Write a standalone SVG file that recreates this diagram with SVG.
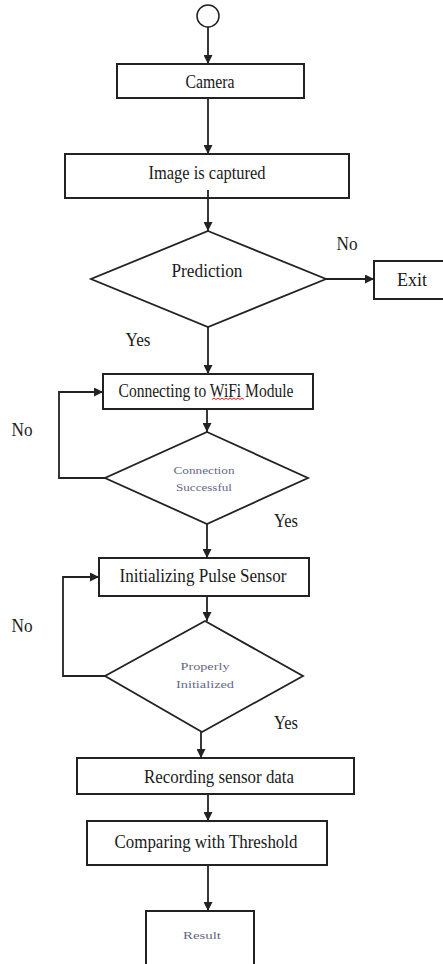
<svg xmlns="http://www.w3.org/2000/svg" width="443" height="964" viewBox="0 0 443 964">
<style>
.box{fill:#fff;stroke:#222;stroke-width:2}
.dia{fill:#fff;stroke:#222;stroke-width:1.8}
.edge{fill:none;stroke:#222;stroke-width:1.8}
.t{font-family:"Liberation Serif","Times New Roman",serif;font-size:18px;fill:#1a1a1a;text-anchor:middle}
.s{font-family:"Liberation Serif","Times New Roman",serif;font-size:11px;fill:#66698a;text-anchor:middle}
</style>
<defs>
<marker id="ah" viewBox="0 0 10 10" refX="10" refY="5" markerWidth="9" markerHeight="9" markerUnits="userSpaceOnUse" orient="auto">
<path d="M0,0 L10,5 L0,10 z" fill="#222"/>
</marker>
</defs>
<rect width="443" height="964" fill="#fff"/>
<g id="connectors">
<line class="edge" x1="208" y1="27" x2="208" y2="64" marker-end="url(#ah)"/>
<line class="edge" x1="208" y1="98" x2="208" y2="154" marker-end="url(#ah)"/>
<line class="edge" x1="208" y1="190" x2="208" y2="231" marker-end="url(#ah)"/>
<line class="edge" x1="326" y1="279" x2="374" y2="279" marker-end="url(#ah)"/>
<line class="edge" x1="208" y1="327" x2="208" y2="374" marker-end="url(#ah)"/>
<line class="edge" x1="207" y1="409" x2="207" y2="432" marker-end="url(#ah)"/>
<polyline class="edge" points="105,478 59,478 59,392 103,392" marker-end="url(#ah)"/>
<line class="edge" x1="207" y1="524" x2="207" y2="558" marker-end="url(#ah)"/>
<line class="edge" x1="207" y1="596" x2="207" y2="621" marker-end="url(#ah)"/>
<polyline class="edge" points="105,676 63,676 63,577 99,577" marker-end="url(#ah)"/>
<line class="edge" x1="201" y1="732" x2="201" y2="758" marker-end="url(#ah)"/>
<line class="edge" x1="208" y1="794" x2="208" y2="821" marker-end="url(#ah)"/>
<line class="edge" x1="208" y1="865" x2="208" y2="911" marker-end="url(#ah)"/>
<text class="t" x="347" y="250" textLength="21" lengthAdjust="spacingAndGlyphs">No</text>
<text class="t" x="138" y="346" textLength="25" lengthAdjust="spacingAndGlyphs">Yes</text>
<text class="t" x="22" y="436" textLength="21" lengthAdjust="spacingAndGlyphs">No</text>
<text class="t" x="286" y="527" textLength="24" lengthAdjust="spacingAndGlyphs">Yes</text>
<text class="t" x="22" y="632" textLength="21" lengthAdjust="spacingAndGlyphs">No</text>
<text class="t" x="286" y="729" textLength="24" lengthAdjust="spacingAndGlyphs">Yes</text>
</g>
<g id="start"><circle cx="208" cy="16" r="11" fill="#fff" stroke="#222" stroke-width="1.5"/></g>
<g id="camera"><rect class="box" x="117" y="64" width="187" height="34"/><text class="t" x="210" y="88" textLength="49" lengthAdjust="spacingAndGlyphs">Camera</text></g>
<g id="capture"><rect class="box" x="65" y="154" width="284" height="44"/><text class="t" x="207" y="179" textLength="117" lengthAdjust="spacingAndGlyphs">Image is captured</text></g>
<line class="edge" x1="208" y1="190" x2="208" y2="198"/>
<g id="prediction"><polygon class="dia" points="208,231 326,279 208,327 91,279"/><text class="t" x="207" y="277" textLength="71" lengthAdjust="spacingAndGlyphs">Prediction</text></g>
<g id="exit"><rect class="box" x="374" y="261" width="80" height="38"/><text class="t" x="412" y="286" textLength="30" lengthAdjust="spacingAndGlyphs">Exit</text></g>
<g id="wifi"><rect class="box" x="103" y="374" width="210" height="35"/><text class="t" x="206" y="397" textLength="175" lengthAdjust="spacingAndGlyphs">Connecting to WiFi Module</text>
<path d="M212,399.5 l2,-1.5 l2,1.5 l2,-1.5 l2,1.5 l2,-1.5 l2,1.5 l2,-1.5 l2,1.5 l2,-1.5 l2,1.5 l2,-1.5 l2,1.5 l2,-1.5 l2,1.5 l2,-1.5 l2,1.5" fill="none" stroke="#e02020" stroke-width="1"/></g>
<g id="conn-check"><polygon class="dia" points="207,432 308,478 207,524 105,478"/><text class="s" x="204" y="474" textLength="61" lengthAdjust="spacingAndGlyphs">Connection</text><text class="s" x="204" y="491" textLength="56" lengthAdjust="spacingAndGlyphs">Successful</text></g>
<g id="pulse"><rect class="box" x="99" y="558" width="210" height="38"/><text class="t" x="203" y="582" textLength="167" lengthAdjust="spacingAndGlyphs">Initializing Pulse Sensor</text></g>
<g id="init-check"><polygon class="dia" points="205,621 303,676 202,732 105,676"/><text class="s" x="205" y="670" textLength="49" lengthAdjust="spacingAndGlyphs">Properly</text><text class="s" x="205" y="688" textLength="58" lengthAdjust="spacingAndGlyphs">Initialized</text></g>
<g id="record"><rect class="box" x="77" y="758" width="277" height="36"/><text class="t" x="219" y="783" textLength="150" lengthAdjust="spacingAndGlyphs">Recording sensor data</text></g>
<g id="compare"><rect class="box" x="87" y="821" width="240" height="44"/><text class="t" x="206" y="848" textLength="183" lengthAdjust="spacingAndGlyphs">Comparing with Threshold</text></g>
<g id="result"><rect class="box" x="146" y="911" width="108" height="70"/><text class="s" x="202" y="939" textLength="38" lengthAdjust="spacingAndGlyphs">Result</text></g>
</svg>
